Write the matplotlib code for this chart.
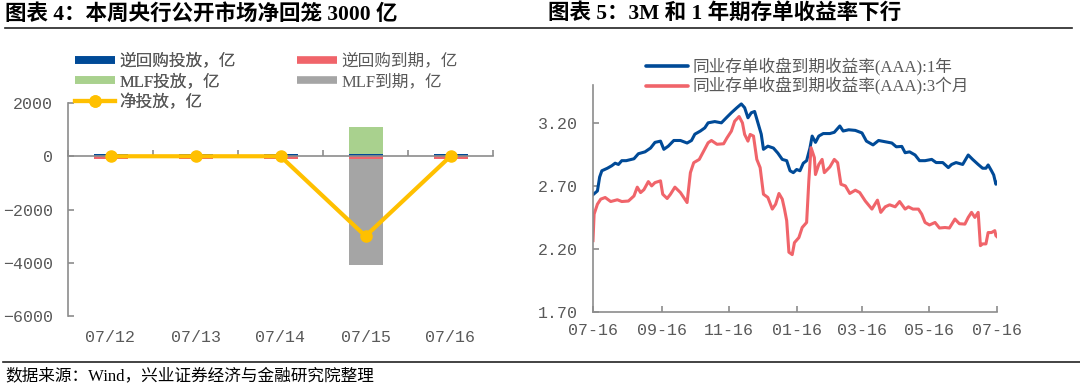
import pandas as pd
import matplotlib
matplotlib.use('Agg')
import matplotlib.pyplot as plt
import matplotlib.transforms as mtransforms
from matplotlib.lines import Line2D

plt.rcParams['font.family'] = ['Liberation Serif', 'Noto Sans CJK SC']
plt.rcParams['axes.unicode_minus'] = True

# 图表4：公开市场操作（亿元）
days = ['07/12', '07/13', '07/14', '07/15', '07/16']
rr_in = [100, 100, 100, 100, 100]
rr_due = [-100, -100, -100, -100, -100]
mlf_in = [0, 0, 0, 1000, 0]
mlf_due = [0, 0, 0, -4000, 0]
net = [0, 0, 0, -3000, 0]

# 图表5：同业存单收益率
dates_1y = ['2020-07-16', '2020-07-20', '2020-07-22', '2020-07-24', '2020-07-29', '2020-08-02',
            '2020-08-05', '2020-08-08', '2020-08-11', '2020-08-15', '2020-08-22', '2020-08-26',
            '2020-09-01', '2020-09-06', '2020-09-10', '2020-09-15', '2020-09-18', '2020-09-22',
            '2020-09-27', '2020-10-03', '2020-10-09', '2020-10-13', '2020-10-16', '2020-10-21',
            '2020-10-25', '2020-10-28', '2020-11-03', '2020-11-09', '2020-11-14', '2020-11-18',
            '2020-11-23', '2020-11-27', '2020-11-30', '2020-12-03', '2020-12-06', '2020-12-09',
            '2020-12-12', '2020-12-15', '2020-12-17', '2020-12-21', '2020-12-26', '2020-12-30',
            '2021-01-03', '2021-01-07', '2021-01-10', '2021-01-13', '2021-01-16', '2021-01-19',
            '2021-01-22', '2021-01-25', '2021-01-28', '2021-01-30', '2021-02-02', '2021-02-05',
            '2021-02-09', '2021-02-15', '2021-02-19', '2021-02-24', '2021-02-27', '2021-03-04',
            '2021-03-10', '2021-03-16', '2021-03-20', '2021-03-26', '2021-03-31', '2021-04-06',
            '2021-04-12', '2021-04-16', '2021-04-21', '2021-04-24', '2021-04-28', '2021-05-03',
            '2021-05-07', '2021-05-12', '2021-05-18', '2021-05-22', '2021-05-28', '2021-06-02',
            '2021-06-05', '2021-06-09', '2021-06-15', '2021-06-20', '2021-06-24', '2021-06-29',
            '2021-07-03', '2021-07-06', '2021-07-08', '2021-07-11', '2021-07-13', '2021-07-15',
            '2021-07-16']
yield_1y = [2.63, 2.66, 2.77, 2.82, 2.84, 2.86, 2.88, 2.87, 2.90, 2.90, 2.915, 2.955,
            2.97, 3.00, 3.045, 3.055, 2.99, 3.015, 3.06, 3.06, 3.04, 3.06, 3.11, 3.135,
            3.16, 3.20, 3.21, 3.20, 3.245, 3.28, 3.32, 3.35, 3.32, 3.24, 3.28, 3.29,
            3.20, 3.11, 2.99, 3.015, 3.00, 2.96, 2.91, 2.90, 2.82, 2.805, 2.83, 2.82,
            2.88, 2.90, 3.00, 3.095, 3.045, 3.095, 3.115, 3.115, 3.125, 3.175, 3.135, 3.145,
            3.14, 3.12, 3.055, 3.025, 3.06, 3.05, 3.04, 3.01, 3.013, 2.963, 2.97, 2.945,
            2.90, 2.90, 2.91, 2.885, 2.885, 2.845, 2.87, 2.885, 2.87, 2.945, 2.91, 2.87,
            2.84, 2.84, 2.866, 2.82, 2.787, 2.713, 2.726]

dates_3m = ['2020-07-16', '2020-07-17', '2020-07-20', '2020-07-23', '2020-07-27', '2020-08-01',
            '2020-08-07', '2020-08-11', '2020-08-17', '2020-08-22', '2020-08-25', '2020-08-28',
            '2020-08-31', '2020-09-04', '2020-09-07', '2020-09-10', '2020-09-15', '2020-09-17',
            '2020-09-21', '2020-09-24', '2020-09-28', '2020-10-03', '2020-10-09', '2020-10-12',
            '2020-10-15', '2020-10-20', '2020-10-24', '2020-10-28', '2020-10-31', '2020-11-05',
            '2020-11-11', '2020-11-14', '2020-11-18', '2020-11-21', '2020-11-25', '2020-11-28',
            '2020-11-30', '2020-12-03', '2020-12-05', '2020-12-08', '2020-12-11', '2020-12-14',
            '2020-12-17', '2020-12-21', '2020-12-25', '2020-12-28', '2020-12-31', '2021-01-03',
            '2021-01-05', '2021-01-07', '2021-01-09', '2021-01-12', '2021-01-14', '2021-01-18',
            '2021-01-21', '2021-01-25', '2021-01-27', '2021-01-29', '2021-02-01', '2021-02-02',
            '2021-02-05', '2021-02-08', '2021-02-10', '2021-02-15', '2021-02-19', '2021-02-22',
            '2021-02-25', '2021-03-01', '2021-03-05', '2021-03-10', '2021-03-14', '2021-03-19',
            '2021-03-25', '2021-03-30', '2021-04-02', '2021-04-06', '2021-04-10', '2021-04-15',
            '2021-04-19', '2021-04-24', '2021-04-27', '2021-05-01', '2021-05-06', '2021-05-09',
            '2021-05-12', '2021-05-16', '2021-05-21', '2021-05-25', '2021-05-30', '2021-06-03',
            '2021-06-08', '2021-06-12', '2021-06-17', '2021-06-20', '2021-06-23', '2021-06-26',
            '2021-06-29', '2021-07-01', '2021-07-03', '2021-07-06', '2021-07-08', '2021-07-11',
            '2021-07-14', '2021-07-15', '2021-07-16']
yield_3m = [2.266, 2.476, 2.555, 2.595, 2.608, 2.576, 2.59, 2.576, 2.58, 2.62, 2.69, 2.647,
            2.67, 2.734, 2.70, 2.726, 2.74, 2.634, 2.60, 2.634, 2.69, 2.647, 2.568, 2.805,
            2.884, 2.91, 2.976, 3.042, 3.06, 3.03, 3.034, 3.08, 3.134, 3.213, 3.25, 3.20,
            3.108, 3.055, 3.108, 3.095, 2.91, 2.845, 2.634, 2.608, 2.516, 2.555, 2.64, 2.595,
            2.516, 2.424, 2.174, 2.155, 2.25, 2.29, 2.37, 2.41, 2.74, 3.003, 2.924, 2.79,
            2.87, 2.91, 2.805, 2.85, 2.91, 2.884, 2.713, 2.70, 2.64, 2.666, 2.647, 2.58,
            2.516, 2.587, 2.49, 2.534, 2.55, 2.534, 2.576, 2.516, 2.534, 2.516, 2.516, 2.476,
            2.41, 2.39, 2.41, 2.366, 2.37, 2.366, 2.437, 2.40, 2.397, 2.45, 2.49, 2.45,
            2.49, 2.226, 2.24, 2.24, 2.33, 2.33, 2.345, 2.305, 2.297]

x_ticks = ['2020-07-16', '2020-09-16', '2020-11-16', '2021-01-16', '2021-03-16', '2021-05-16', '2021-07-16']
x_tick_labels = ['07-16', '09-16', '11-16', '01-16', '03-16', '05-16', '07-16']

blue = '#004A97'
red = '#F0646A'
green = '#A9D18E'
grey = '#A5A5A5'
yellow = '#FFC000'
axis_c = '#8C8C8C'
txt_c = '#595959'
tick_font = ['Liberation Mono']

W, H = 1080, 387
fig = plt.figure(figsize=(W / 100, H / 100), dpi=100)


def fx(px):
    return px / W


def fy(py):
    return 1 - py / H


# 标题与分隔线
fig.text(fx(5), fy(14), '图表 4：本周央行公开市场净回笼 3000 亿', fontsize=15.5, fontweight='bold',
         va='center', ha='left')
fig.text(fx(548), fy(14), '图表 5：3M 和 1 年期存单收益率下行', fontsize=15.5, fontweight='bold',
         va='center', ha='left')
fig.add_artist(Line2D([fx(5), fx(1072)], [fy(27.5), fy(27.5)], transform=fig.transFigure,
                      color='#222222', lw=1.2))
fig.add_artist(Line2D([fx(3), fx(1080)], [fy(362), fy(362)], transform=fig.transFigure,
                      color='#222222', lw=1.2))
fig.text(fx(5), fy(376), '数据来源：Wind，兴业证券经济与金融研究院整理', fontsize=12,
         va='center', ha='left')

# ---- 左图 ----
ax1 = fig.add_axes([fx(68), fy(316), fx(493) - fx(68), fy(103) - fy(316)])
x = list(range(len(days)))
ax1.bar(x, rr_in, 0.4, color=blue, zorder=2)
ax1.bar(x, mlf_in, 0.4, bottom=rr_in, color=green, zorder=2)
ax1.bar(x, rr_due, 0.4, color=red, zorder=2)
ax1.bar(x, mlf_due, 0.4, bottom=rr_due, color=grey, zorder=2)
ax1.plot(x, net, color=yellow, lw=3, marker='o', ms=8, zorder=5)

ax1.set_xlim(-0.5, len(days) - 0.5)
ax1.set_ylim(-6000, 2000)
ax1.set_yticks([-6000, -4000, -2000, 0, 2000])
ax1.set_xticks([i - 0.5 for i in range(len(days) + 1)])
ax1.set_xticklabels([])
ax1.spines['bottom'].set_position(('data', 0))
for s in ['top', 'right']:
    ax1.spines[s].set_visible(False)
for s in ['left', 'bottom']:
    ax1.spines[s].set_color(axis_c)
    ax1.spines[s].set_linewidth(1.2)
ax1.tick_params(axis='x', direction='in', length=4, color=axis_c, width=1.2)
ax1.tick_params(axis='y', direction='in', length=4, color=axis_c, width=1.2,
                labelsize=12, labelcolor=txt_c, pad=11)
for lab in ax1.get_yticklabels():
    lab.set_family(tick_font)
trans = mtransforms.blended_transform_factory(ax1.transData, ax1.transAxes)
for i, d in enumerate(days):
    ax1.text(i, -0.099, d, transform=trans, ha='center', va='center', fontsize=12,
             color=txt_c, family=tick_font)

h_bar = lambda c: Line2D([], [], color=c, lw=5.5, solid_capstyle='butt')
h_net = Line2D([], [], color=yellow, lw=3, marker='o', ms=8)
leg_a = fig.legend([h_bar(blue), h_bar(green), h_net], ['逆回购投放，亿', 'MLF投放，亿', '净投放，亿'],
                   loc='upper left', bbox_to_anchor=(fx(75), fy(53.5)), frameon=False, fontsize=12,
                   handlelength=2.4, handletextpad=0.25, labelspacing=0.28, borderpad=0,
                   borderaxespad=0, labelcolor=txt_c)
fig.legend([h_bar(red), h_bar(grey)], ['逆回购到期，亿', 'MLF到期，亿'],
           loc='upper left', bbox_to_anchor=(fx(297), fy(53.5)), frameon=False, fontsize=12,
           handlelength=2.4, handletextpad=0.25, labelspacing=0.28, borderpad=0,
           borderaxespad=0, labelcolor=txt_c)
fig.add_artist(leg_a)

# ---- 右图 ----
ax2 = fig.add_axes([fx(593), fy(312), fx(997) - fx(593), fy(85) - fy(312)])
d1 = pd.to_datetime(dates_1y)
d3 = pd.to_datetime(dates_3m)
ax2.plot(d1, yield_1y, color=blue, lw=2.2)
ax2.plot(d3, yield_3m, color=red, lw=2.2)
ax2.set_xlim(pd.Timestamp(x_ticks[0]), pd.Timestamp(x_ticks[-1]))
ax2.set_ylim(1.7, 3.5)
ax2.set_yticks([1.7, 2.2, 2.7, 3.2])
ax2.set_yticklabels(['%.2f' % v for v in [1.7, 2.2, 2.7, 3.2]])
ax2.set_xticks(pd.to_datetime(x_ticks))
ax2.set_xticklabels(x_tick_labels)
for s in ['top', 'right']:
    ax2.spines[s].set_visible(False)
for s in ['left', 'bottom']:
    ax2.spines[s].set_color(axis_c)
    ax2.spines[s].set_linewidth(1.2)
ax2.tick_params(axis='both', direction='in', length=4, color=axis_c, width=1.2,
                labelsize=12, labelcolor=txt_c)
ax2.tick_params(axis='x', pad=8)
ax2.tick_params(axis='y', pad=11)
for lab in ax2.get_xticklabels() + ax2.get_yticklabels():
    lab.set_family(tick_font)

fig.legend([Line2D([], [], color=blue, lw=2.6, solid_capstyle='round'),
            Line2D([], [], color=red, lw=2.6, solid_capstyle='round')],
           ['同业存单收盘到期收益率(AAA):1年', '同业存单收盘到期收益率(AAA):3个月'],
           loc='upper left', bbox_to_anchor=(fx(646), fy(58)), frameon=False, fontsize=12,
           handlelength=2.5, handletextpad=0.3, labelspacing=0.1, borderpad=0,
           borderaxespad=0, labelcolor=txt_c)

fig.savefig('out.png', dpi=100)
